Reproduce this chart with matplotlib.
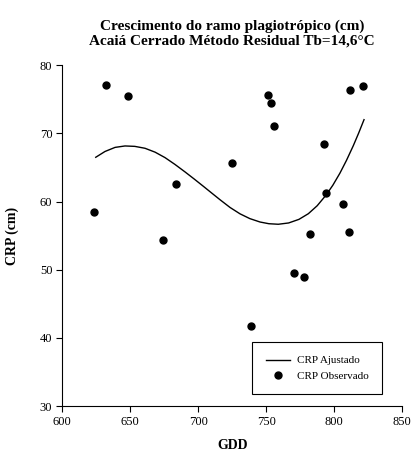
import matplotlib.pyplot as plt

plt.rcParams['font.family'] = ['Liberation Serif', 'DejaVu Serif']

# observed plagiotropic branch growth (CRP, cm) against degree days (GDD)
gdd = [623.8, 632.4, 648.5, 674.5, 684.0, 724.9, 738.9, 751.6, 753.6, 755.8,
       770.5, 777.6, 782.0, 792.5, 794.0, 806.5, 811.1, 811.4, 821.4]
crp = [58.4, 77.1, 75.5, 54.3, 62.6, 65.6, 41.8, 75.6, 74.5, 71.1,
       49.5, 48.9, 55.3, 68.4, 61.3, 59.7, 55.5, 76.4, 77.0]

# adjusted model curve
gdd_fit = [624.8, 631.6, 639.0, 646.3, 653.5, 661.0, 668.4, 675.7, 683.0,
           690.4, 697.0, 703.8, 710.0, 716.1, 723.5, 730.8, 738.0, 745.5,
           752.0, 758.9, 766.5, 774.1, 781.0, 787.5, 794.0, 799.0, 804.2,
           809.0, 814.0, 818.0, 821.9]
crp_fit = [66.50, 67.35, 67.95, 68.16, 68.10, 67.82, 67.25, 66.45, 65.45,
           64.35, 63.33, 62.25, 61.25, 60.27, 59.13, 58.20, 57.50, 57.00,
           56.75, 56.67, 56.86, 57.39, 58.22, 59.39, 60.95, 62.40, 64.17,
           66.04, 68.19, 70.07, 72.02]

fig = plt.figure(figsize=(4.16, 4.61), dpi=100)
ax = fig.add_axes([0.149, 0.1193, 0.818, 0.7391])

ax.plot(gdd_fit, crp_fit, color='black', linewidth=1.0, label='CRP Ajustado')
ax.plot(gdd, crp, 'o', color='black', markersize=5, linestyle='none',
        label='CRP Observado')

ax.set_xlim(600, 850)
ax.set_ylim(30, 80)
ax.set_xticks([600, 650, 700, 750, 800, 850])
ax.set_yticks([30, 40, 50, 60, 70, 80])
ax.spines['top'].set_visible(False)
ax.spines['right'].set_visible(False)
ax.tick_params(direction='out', length=4, width=0.8, labelsize=9, pad=3)

ax.set_xlabel('GDD', fontsize=10, fontweight='bold', labelpad=8)
ax.set_ylabel('CRP (cm)', fontsize=10, fontweight='bold', labelpad=15)
fig.text(0.557, 0.957, 'Crescimento do ramo plagiotrópico (cm)\n'
         'Acaiá Cerrado Método Residual Tb=14,6°C',
         ha='center', va='top', fontsize=11, fontweight='bold',
         linespacing=1.15)

leg = ax.legend(loc='lower right', bbox_to_anchor=(0.94, 0.035), fontsize=8,
                fancybox=False, edgecolor='black', framealpha=1,
                handlelength=2.2, handletextpad=0.6, borderpad=1.2,
                labelspacing=0.5, borderaxespad=0)
leg.get_frame().set_linewidth(0.8)

fig.savefig('out.png', dpi=100)
